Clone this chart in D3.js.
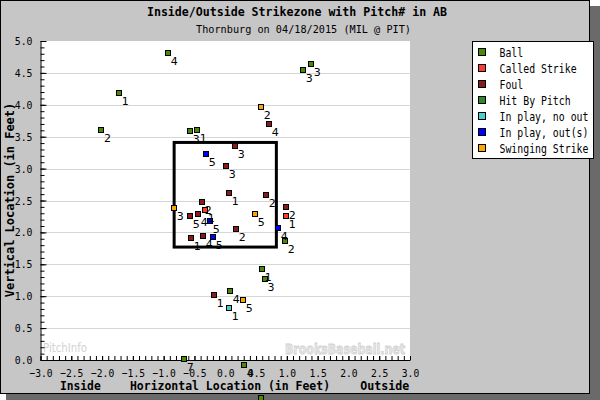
<!DOCTYPE html>
<html><head><meta charset="utf-8">
<script src="https://cdn.jsdelivr.net/npm/d3@7"></script>
<style>body{margin:0;background:#fff}svg{display:block}</style>
</head><body><svg id="c" width="600" height="400"></svg>
<script>
// ---------- data ----------
const chartTitle = "Inside/Outside Strikezone with Pitch# in AB";
const chartSubtitle = "Thornburg on 04/18/2015 (MIL @ PIT)";
const resultTypes = ["Ball","Called Strike","Foul","Hit By Pitch","In play, no out","In play, out(s)","Swinging Strike"];
const resultColors = ["#4a8a00","#ff3a33","#8b1a1a","#2a8a2a","#48d1cc","#0000ff","#ffa500"];
// [horizontal ft, vertical ft, pitch# in AB]
const ballPitches = [[-0.925,4.81,4],[-1.72,4.18,1],[-2.01,3.605,2],[-0.568,3.59,3],[-0.454,3.605,1],
  [1.397,4.64,3],[1.267,4.54,3],[0.602,1.42,1],[0.646,1.265,3],[0.082,1.077,4],[-0.665,0.016,7],
  [0.309,-0.083,4],[0.585,-0.596,6],[0.975,1.865,2]];
const calledStrikePitches = [[-0.324,2.346,1],[0.991,2.252,1]];
const foulPitches = [[0.163,3.354,3],[0.715,3.694,4],[0.017,3.041,3],[0.066,2.618,1],[0.667,2.581,2],
  [-0.373,2.476,2],[-0.568,2.252,5],[-0.438,2.284,4],[0.991,2.393,2],[0.179,2.053,2],[-0.551,1.908,1],
  [-0.356,1.939,4],[-0.178,1.019,1]];
const hitByPitchPitches = [];
const inPlayNoOutPitches = [[0.066,0.81,1]];
const inPlayOutPitches = [[-0.308,3.224,5],[-0.243,2.179,5],[0.861,2.064,4],[-0.194,1.928,5]];
const swingingStrikePitches = [[0.585,3.961,2],[-0.827,2.378,3],[0.488,2.284,5],[0.293,0.936,5]];
const xTickValues = [-3,-2.5,-2,-1.5,-1,-0.5,0,0.5,1,1.5,2,2.5,3];
const yTickValues = [0,0.5,1,1.5,2,2.5,3,3.5,4,4.5,5];
const zoneX = [-0.83, 0.83];
const zoneY = [1.77, 3.41];

// ---------- drawing ----------
const svg = d3.select("#c");
const MONO = "'DejaVu Sans Mono', 'Liberation Mono', monospace";
function mono(sel, cw){
  sel.attr("textLength", function(){ return this.textContent.length*cw; })
     .attr("lengthAdjust","spacingAndGlyphs");
  return sel;
}

// frame + shadow
svg.append("rect").attr("x",6).attr("y",6).attr("width",594).attr("height",394).attr("fill","#6a6a6a");
svg.append("rect").attr("x",0.5).attr("y",0.5).attr("width",589).attr("height",393)
  .attr("fill","#c6c6c6").attr("stroke","#000");

const x = d3.scaleLinear().domain([-3,3]).range([40.5,410]);
const y = d3.scaleLinear().domain([0,5]).range([360,41]);

// plot background
svg.append("rect").attr("x",x(-3)).attr("y",y(5)).attr("width",x(3)-x(-3)).attr("height",y(0)-y(5)).attr("fill","#fff");

// gridlines
svg.append("g").selectAll("line").data(yTickValues.filter(v=>v>0 && v<5)).join("line")
  .attr("x1",x(-3)).attr("x2",x(3)).attr("y1",d=>Math.round(y(d))+0.5).attr("y2",d=>Math.round(y(d))+0.5)
  .attr("stroke","#d6d6d6").attr("stroke-width",1);

// watermarks
svg.append("text").attr("x",43).attr("y",352).text("PitchInfo")
  .attr("font-family","'DejaVu Sans', sans-serif").attr("font-size",12).attr("fill","#d2d2d2")
  .attr("textLength",44).attr("lengthAdjust","spacingAndGlyphs");
svg.append("text").attr("x",285).attr("y",354).text("BrooksBaseball.net")
  .attr("font-family","'DejaVu Sans', sans-serif").attr("font-weight","bold").attr("font-size",14)
  .attr("fill","#eaeaea").attr("stroke","#cfcfcf").attr("stroke-width",0.8)
  .attr("textLength",120).attr("lengthAdjust","spacingAndGlyphs");

// minor ticks
const minorX = d3.range(-30,31).map(i=>i/10);
const minorY = d3.range(0,51).map(i=>i/10);
svg.append("g").attr("transform","translate(0,360)")
  .call(d3.axisBottom(x).tickValues(minorX).tickSize(-4).tickSizeOuter(0).tickFormat(""))
  .call(g=>g.select(".domain").attr("stroke","#000"))
  .call(g=>g.selectAll("line").attr("stroke","#000"));
svg.append("g").attr("transform","translate(40.5,0)")
  .call(d3.axisLeft(y).tickValues(minorY).tickSize(-4).tickSizeOuter(0).tickFormat(""))
  .call(g=>g.select(".domain").attr("stroke","#000"))
  .call(g=>g.selectAll("line").attr("stroke","#000"));

// major ticks with labels
const xAxisG = svg.append("g").attr("transform","translate(0,360)")
  .call(d3.axisBottom(x).tickValues(xTickValues).tickSize(-4).tickSizeOuter(0).tickPadding(9).tickFormat(d3.format(".1f")));
xAxisG.select(".domain").remove();
xAxisG.selectAll("line").attr("stroke","#000");
xAxisG.selectAll("text").attr("font-family",MONO).attr("font-size",11).attr("fill","#000").attr("dy","0.71em")
  .each(function(){ mono(d3.select(this),5.8); });

const yAxisG = svg.append("g").attr("transform","translate(40.5,0)")
  .call(d3.axisLeft(y).tickValues(yTickValues).tickSize(-6).tickSizeOuter(0).tickPadding(8).tickFormat(d3.format(".1f")));
yAxisG.select(".domain").remove();
yAxisG.selectAll("line").attr("stroke","#000");
yAxisG.selectAll("text").attr("font-family",MONO).attr("font-size",11).attr("fill","#000")
  .each(function(){ mono(d3.select(this),5.9); });

// strike zone
svg.append("rect").attr("x",x(zoneX[0])).attr("y",y(zoneY[1]))
  .attr("width",x(zoneX[1])-x(zoneX[0])).attr("height",y(zoneY[0])-y(zoneY[1]))
  .attr("fill","none").attr("stroke","#000").attr("stroke-width",3);

// titles
mono(svg.append("text").attr("x",297).attr("y",16).attr("text-anchor","middle").text(chartTitle)
  .attr("font-family",MONO).attr("font-weight","bold").attr("font-size",12),6.98);
mono(svg.append("text").attr("x",303.5).attr("y",33).attr("text-anchor","middle").text(chartSubtitle)
  .attr("font-family",MONO).attr("font-size",11),6.14);
mono(svg.append("text").attr("x",230).attr("y",390).attr("text-anchor","middle").text("Horizontal Location (in Feet)")
  .attr("font-family",MONO).attr("font-weight","bold").attr("font-size",12),6.9);
mono(svg.append("text").attr("x",80.3).attr("y",390).attr("text-anchor","middle").text("Inside")
  .attr("font-family",MONO).attr("font-weight","bold").attr("font-size",12),6.8);
mono(svg.append("text").attr("x",384.7).attr("y",390).attr("text-anchor","middle").text("Outside")
  .attr("font-family",MONO).attr("font-weight","bold").attr("font-size",12),7.0);
mono(svg.append("text").attr("transform","translate(13.5,200) rotate(-90)").attr("text-anchor","middle")
  .text("Vertical Location (in Feet)").attr("font-family",MONO).attr("font-weight","bold").attr("font-size",12),7.2);

// points
const groups = [
  {t:0, d:ballPitches},{t:3, d:hitByPitchPitches},{t:2, d:foulPitches},{t:1, d:calledStrikePitches},
  {t:6, d:swingingStrikePitches},{t:4, d:inPlayNoOutPitches},{t:5, d:inPlayOutPitches}
];
const pts = [];
groups.forEach(g=>g.d.forEach(p=>pts.push({x:p[0],y:p[1],n:p[2],c:resultColors[g.t]})));
const pg = svg.append("g");
pg.selectAll("rect").data(pts).join("rect")
  .attr("x",d=>Math.round(x(d.x))-2.5).attr("y",d=>Math.round(y(d.y))-2.5)
  .attr("width",5).attr("height",5).attr("fill",d=>d.c).attr("stroke","#000").attr("stroke-width",1);
pg.selectAll("text").data(pts).join("text")
  .attr("x",d=>x(d.x)+2.5).attr("y",d=>y(d.y)+12).text(d=>d.n)
  .attr("font-family","'DejaVu Sans', sans-serif").attr("font-size",11).attr("fill","#000");

// legend
const lg = svg.append("g");
lg.append("rect").attr("x",472.5).attr("y",41.5).attr("width",121).attr("height",117).attr("fill","#fff").attr("stroke","#000");
const li = lg.selectAll("g.it").data(resultTypes).join("g").attr("class","it")
  .attr("transform",(d,i)=>`translate(0,${52+i*16})`);
li.append("rect").attr("x",478.5).attr("y",-3.5).attr("width",7).attr("height",7)
  .attr("fill",(d,i)=>resultColors[i]).attr("stroke","#000");
li.append("text").attr("x",499.5).attr("y",4.5).text(d=>d)
  .attr("font-family",MONO).attr("font-size",12).attr("fill","#000")
  .each(function(){ mono(d3.select(this),5.93); });
</script></body></html>
